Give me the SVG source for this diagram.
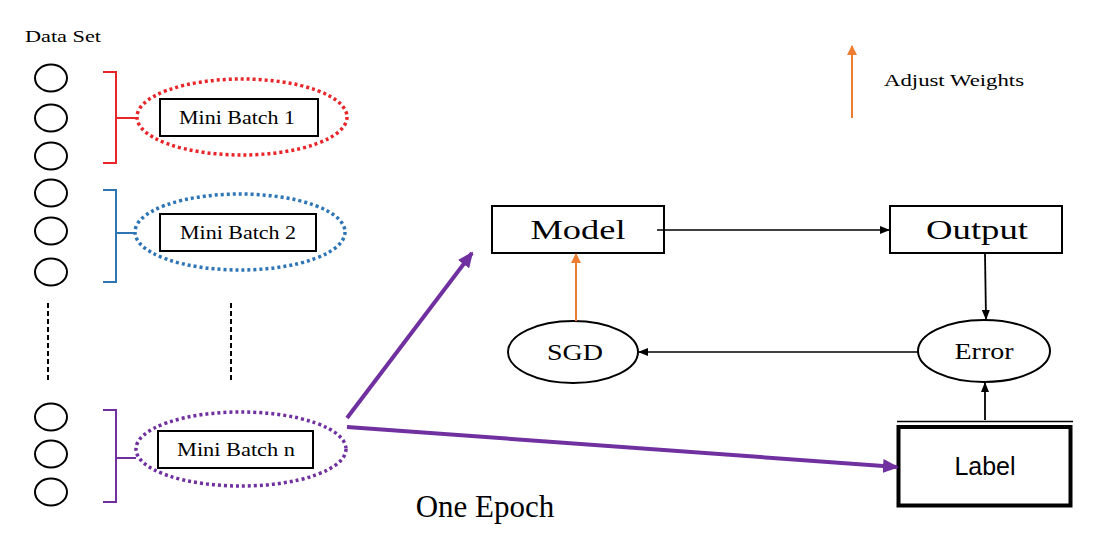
<svg xmlns="http://www.w3.org/2000/svg" width="1116" height="549" viewBox="0 0 1116 549">
<defs>
<marker id="ab" markerWidth="10" markerHeight="8" refX="9" refY="4" orient="auto" markerUnits="userSpaceOnUse"><path d="M0,0 L10,4 L0,8 Z" fill="#000"/></marker>
<marker id="ao" markerWidth="10" markerHeight="10" refX="9" refY="5" orient="auto" markerUnits="userSpaceOnUse"><path d="M0,0 L10,5 L0,10 Z" fill="#ED7D31"/></marker>
<marker id="ap" markerWidth="16" markerHeight="14" refX="14" refY="7" orient="auto" markerUnits="userSpaceOnUse"><path d="M0,0 L16,7 L0,14 Z" fill="#7030A0"/></marker>
</defs>
<style>
.c{fill:#fff;stroke:#000;stroke-width:2}
.box{fill:#fff;stroke:#000;stroke-width:2}
text{fill:#000}
.mb{font-size:18px;text-anchor:middle}
.big{font-size:28px;text-anchor:middle}
.mid{font-size:24px;text-anchor:middle}
.dot{fill:none;stroke-width:3.5;stroke-dasharray:3 3}
.br{fill:none;stroke-width:2}
</style>
<rect width="1116" height="549" fill="#fff"/>
<g id="dataset">
<text font-family="Liberation Serif, Times New Roman, serif" x="25" y="42" font-size="16" textLength="76" lengthAdjust="spacingAndGlyphs">Data Set</text>
<ellipse class="c" cx="51" cy="78" rx="16" ry="13.5"/>
<ellipse class="c" cx="51" cy="118" rx="16" ry="13.5"/>
<ellipse class="c" cx="51" cy="156" rx="16" ry="13.5"/>
<ellipse class="c" cx="51" cy="193" rx="16" ry="13.5"/>
<ellipse class="c" cx="51" cy="231" rx="16" ry="13.5"/>
<ellipse class="c" cx="51" cy="272" rx="16" ry="13.5"/>
<line x1="48" y1="303" x2="48" y2="381" stroke="#000" stroke-width="2" stroke-dasharray="5 3"/>
<line x1="231" y1="303" x2="231" y2="383" stroke="#000" stroke-width="2" stroke-dasharray="5 3"/>
<ellipse class="c" cx="51" cy="417" rx="16" ry="13.5"/>
<ellipse class="c" cx="51" cy="454" rx="16" ry="13.5"/>
<ellipse class="c" cx="51" cy="492" rx="16" ry="13.5"/>
</g>
<g id="batch1">
<path class="br" stroke="#E8262A" d="M103,72 H116 V163 H103 M116,118 H136"/>
<ellipse class="dot" stroke="#E8262A" cx="242" cy="117" rx="105" ry="38"/>
<rect class="box" x="160" y="99" width="158" height="37"/>
<text font-family="Liberation Serif, Times New Roman, serif" class="mb" x="237" y="124" textLength="116" lengthAdjust="spacingAndGlyphs">Mini Batch 1</text>
</g>
<g id="batch2">
<path class="br" stroke="#2E75B6" d="M103,190 H116 V282 H103 M116,233 H134"/>
<ellipse class="dot" stroke="#2E75B6" cx="240" cy="232" rx="105" ry="38"/>
<rect class="box" x="160" y="214" width="156" height="37"/>
<text font-family="Liberation Serif, Times New Roman, serif" class="mb" x="238" y="239" textLength="116" lengthAdjust="spacingAndGlyphs">Mini Batch 2</text>
</g>
<g id="batchn">
<path class="br" stroke="#7030A0" d="M103,410 H116 V502 H103 M116,458 H136"/>
<ellipse class="dot" stroke="#7030A0" cx="241" cy="449" rx="105" ry="37"/>
<rect class="box" x="158" y="431" width="155" height="37"/>
<text font-family="Liberation Serif, Times New Roman, serif" class="mb" x="236" y="456" textLength="118" lengthAdjust="spacingAndGlyphs">Mini Batch n</text>
</g>
<g id="model">
<rect class="box" x="492" y="206" width="172" height="47"/>
<text font-family="Liberation Serif, Times New Roman, serif" class="big" x="578" y="239" textLength="95" lengthAdjust="spacingAndGlyphs">Model</text>
</g>
<g id="output">
<rect class="box" x="890" y="206" width="172" height="47"/>
<text font-family="Liberation Serif, Times New Roman, serif" class="big" x="977" y="239" textLength="102" lengthAdjust="spacingAndGlyphs">Output</text>
</g>
<g id="sgd">
<ellipse class="c" cx="573" cy="352" rx="65" ry="31"/>
<text font-family="Liberation Serif, Times New Roman, serif" class="mid" x="575" y="360" textLength="56" lengthAdjust="spacingAndGlyphs">SGD</text>
</g>
<g id="error">
<ellipse class="c" cx="984" cy="351" rx="66" ry="31"/>
<text font-family="Liberation Serif, Times New Roman, serif" class="mid" x="984" y="359" textLength="59" lengthAdjust="spacingAndGlyphs">Error</text>
</g>
<g id="label">
<line x1="897" y1="421.5" x2="1073" y2="421.5" stroke="#000" stroke-width="1.5"/>
<rect x="898.5" y="427" width="172" height="78.5" fill="#fff" stroke="#000" stroke-width="4"/>
<text x="985" y="475" font-family="Liberation Sans, Arial, sans-serif" font-size="25" text-anchor="middle">Label</text>
</g>
<g id="legend">
<line x1="852" y1="118" x2="852" y2="46" stroke="#ED7D31" stroke-width="2" marker-end="url(#ao)"/>
<text font-family="Liberation Serif, Times New Roman, serif" x="884" y="86" font-size="17" textLength="140" lengthAdjust="spacingAndGlyphs">Adjust Weights</text>
</g>
<text id="epoch" font-family="Liberation Serif, Times New Roman, serif" x="485" y="517" font-size="31" text-anchor="middle">One Epoch</text>
<g id="connectors">
<line x1="657" y1="230" x2="889" y2="230" stroke="#000" stroke-width="1.5" marker-end="url(#ab)"/>
<line x1="985" y1="254" x2="986" y2="319" stroke="#000" stroke-width="1.8" marker-end="url(#ab)"/>
<line x1="918" y1="352" x2="639" y2="352" stroke="#000" stroke-width="1.5" marker-end="url(#ab)"/>
<line x1="985" y1="420" x2="985" y2="383" stroke="#000" stroke-width="1.8" marker-end="url(#ab)"/>
<line x1="576" y1="321" x2="576" y2="254" stroke="#ED7D31" stroke-width="2" marker-end="url(#ao)"/>
<line x1="347" y1="418" x2="472" y2="253" stroke="#7030A0" stroke-width="4" marker-end="url(#ap)"/>
<line x1="347" y1="427" x2="897" y2="467" stroke="#7030A0" stroke-width="4" marker-end="url(#ap)"/>
</g>
</svg>
